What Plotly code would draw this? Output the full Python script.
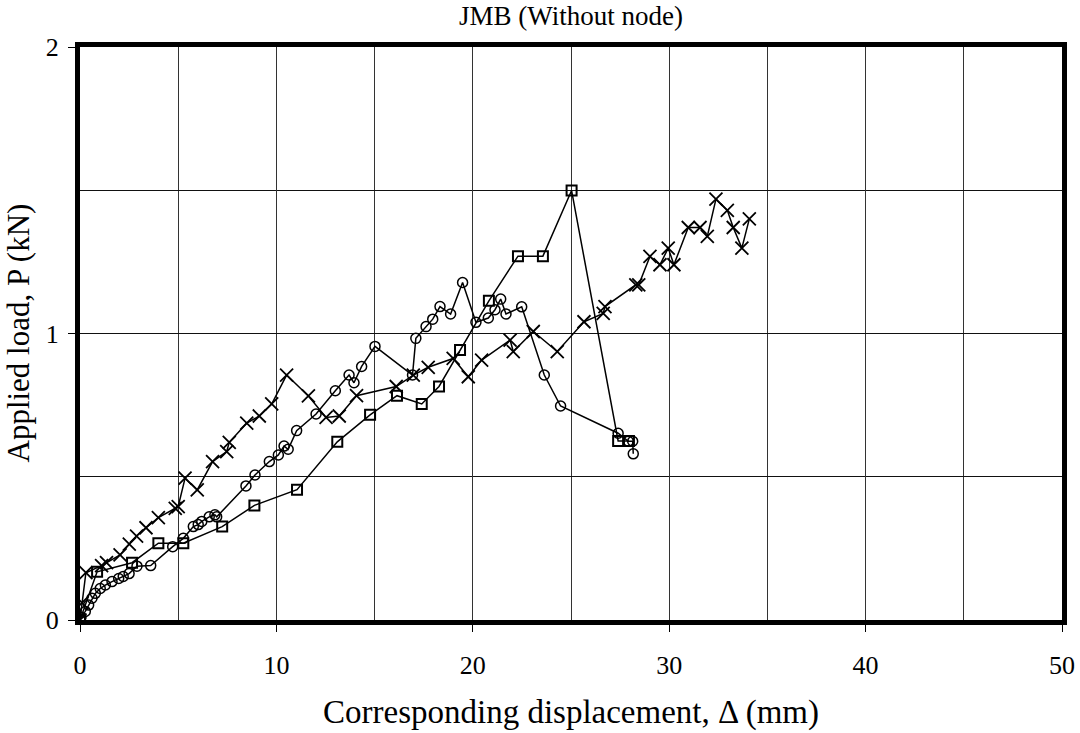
import plotly.graph_objects as go

# Series 1 (cross markers)
x_cross = [0, 0.1, 0.3, 1.1, 1.35, 2.04, 2.51, 2.88, 3.36, 3.99, 4.85, 5.0, 5.35, 5.97,
           6.75, 7.47, 7.6, 8.49, 9.13, 9.76, 10.52, 11.63, 12.53, 13.2, 14.08, 16.1,
           16.97, 17.73, 19.0, 19.77, 20.45, 21.9, 22.06, 23.08, 24.3, 25.66, 26.64,
           26.73, 28.3, 28.45, 29.02, 29.53, 29.95, 30.24, 30.97, 31.57, 31.94, 32.38,
           32.96, 33.26, 33.7, 34.08]
y_cross = [0, 0.06, 0.165, 0.19, 0.2, 0.227, 0.265, 0.293, 0.322, 0.357, 0.39, 0.396,
           0.495, 0.454, 0.553, 0.588, 0.62, 0.687, 0.712, 0.754, 0.855, 0.782, 0.707,
           0.712, 0.783, 0.815, 0.855, 0.882, 0.913, 0.849, 0.907, 0.977, 0.937, 1.007,
           0.937, 1.041, 1.07, 1.094, 1.17, 1.17, 1.269, 1.24, 1.298, 1.24, 1.37, 1.37,
           1.339, 1.469, 1.43, 1.37, 1.298, 1.40]

# Series 2 (circle markers)
x_circle = [0, 0.05, 0.27, 0.44, 0.61, 0.78, 1.03, 1.29, 1.63, 1.97, 2.2, 2.5, 2.9, 3.6,
            4.72, 5.26, 5.77, 6.02, 6.2, 6.58, 6.87, 6.96, 8.45, 8.91, 9.64, 10.1, 10.39,
            10.6, 11.03, 12.02, 13.0, 13.7, 13.95, 14.34, 15.02, 16.93, 17.1, 17.62, 17.96,
            18.33, 18.87, 19.48, 20.16, 20.79, 21.13, 21.42, 21.69, 22.49, 23.64, 24.47,
            27.4, 27.92, 28.14, 28.17]
y_circle = [0, 0.01, 0.03, 0.052, 0.076, 0.093, 0.11, 0.122, 0.134, 0.145, 0.152, 0.162,
            0.188, 0.19, 0.256, 0.285, 0.326, 0.333, 0.344, 0.36, 0.367, 0.36, 0.468,
            0.506, 0.553, 0.576, 0.607, 0.596, 0.661, 0.719, 0.8, 0.855, 0.828, 0.885,
            0.955, 0.855, 0.983, 1.024, 1.05, 1.094, 1.068, 1.178, 1.039, 1.054, 1.083,
            1.12, 1.068, 1.093, 0.855, 0.747, 0.652, 0.624, 0.624, 0.58]

# Series 3 (square markers)
x_square = [0, 0.87, 2.65, 3.99, 5.26, 7.24, 8.88, 11.05, 13.1, 14.77, 16.14, 17.4,
            18.28, 19.35, 20.82, 22.3, 23.57, 25.03, 27.4, 27.95]
y_square = [0, 0.168, 0.2, 0.268, 0.268, 0.326, 0.4, 0.455, 0.622, 0.716, 0.783, 0.754,
            0.815, 0.942, 1.114, 1.27, 1.27, 1.499, 0.625, 0.625]

x_ticks = [0, 10, 20, 30, 40, 50]
y_ticks = [0, 1, 2]

FONT = "Liberation Serif"

W, H = 1080, 733
ML, MR, MT, MB = 80, 18, 47, 113
PW, PH = W - ML - MR, H - MT - MB

fig = go.Figure()
fig.add_trace(go.Scatter(x=x_cross, y=y_cross, mode="lines+markers",
                         line=dict(color="black", width=1.5),
                         marker=dict(symbol="x-thin-open", size=13, color="black",
                                     line=dict(color="black", width=1.8)),
                         showlegend=False))
fig.add_trace(go.Scatter(x=x_circle, y=y_circle, mode="lines+markers",
                         line=dict(color="black", width=1.5),
                         marker=dict(symbol="circle-open", size=10, color="black",
                                     line=dict(color="black", width=1.5)),
                         showlegend=False))
fig.add_trace(go.Scatter(x=x_square, y=y_square, mode="lines+markers",
                         line=dict(color="black", width=1.5),
                         marker=dict(symbol="square-open", size=10, color="black",
                                     line=dict(color="black", width=2)),
                         showlegend=False))

fig.update_layout(
    width=W, height=H,
    margin=dict(l=ML, r=MR, t=MT, b=MB, autoexpand=False),
    paper_bgcolor="white", plot_bgcolor="white",
    font=dict(family=FONT, color="black"),
    annotations=[
        dict(text="JMB (Without node)", xref="paper", yref="paper",
             x=0.5, y=1 + 31 / PH, xanchor="center", yanchor="middle",
             showarrow=False, font=dict(size=27, family=FONT)),
        dict(text="Corresponding displacement, Δ (mm)", xref="paper", yref="paper",
             x=0.5, y=-92 / PH, xanchor="center", yanchor="middle",
             showarrow=False, font=dict(size=33, family=FONT)),
        dict(text="Applied load, P (kN)", xref="paper", yref="paper",
             x=-62 / PW, y=0.5, xanchor="center", yanchor="middle", textangle=-90,
             showarrow=False, font=dict(size=31, family=FONT)),
    ],
)
fig.update_xaxes(
    range=[0, 50], tickvals=x_ticks, ticktext=[str(v) for v in x_ticks],
    ticks="outside", ticklen=7, tickwidth=1, tickcolor="black",
    tickfont=dict(size=26, family=FONT), ticklabelstandoff=11,
    showgrid=True, gridcolor="#333", gridwidth=1,
    minor=dict(tickvals=[5, 15, 25, 35, 45], showgrid=True, gridcolor="#333", gridwidth=1),
    showline=True, linecolor="black", linewidth=5, mirror=True, zeroline=False,
    automargin=False,
)
fig.update_yaxes(
    range=[0, 2], tickvals=y_ticks, ticktext=[str(v) for v in y_ticks],
    ticks="outside", ticklen=7, tickwidth=1, tickcolor="black",
    tickfont=dict(size=26, family=FONT), ticklabelstandoff=4,
    showgrid=True, gridcolor="#111", gridwidth=1,
    minor=dict(tickvals=[0.5, 1.5], showgrid=True, gridcolor="#111", gridwidth=1),
    showline=True, linecolor="black", linewidth=5, mirror=True, zeroline=False,
    automargin=False,
)

# remove the browser's default 8px body margin so the figure fills the window
fig.write_html("out.html", config={"displayModeBar": False},
               post_script="document.body.style.margin='0px';")
